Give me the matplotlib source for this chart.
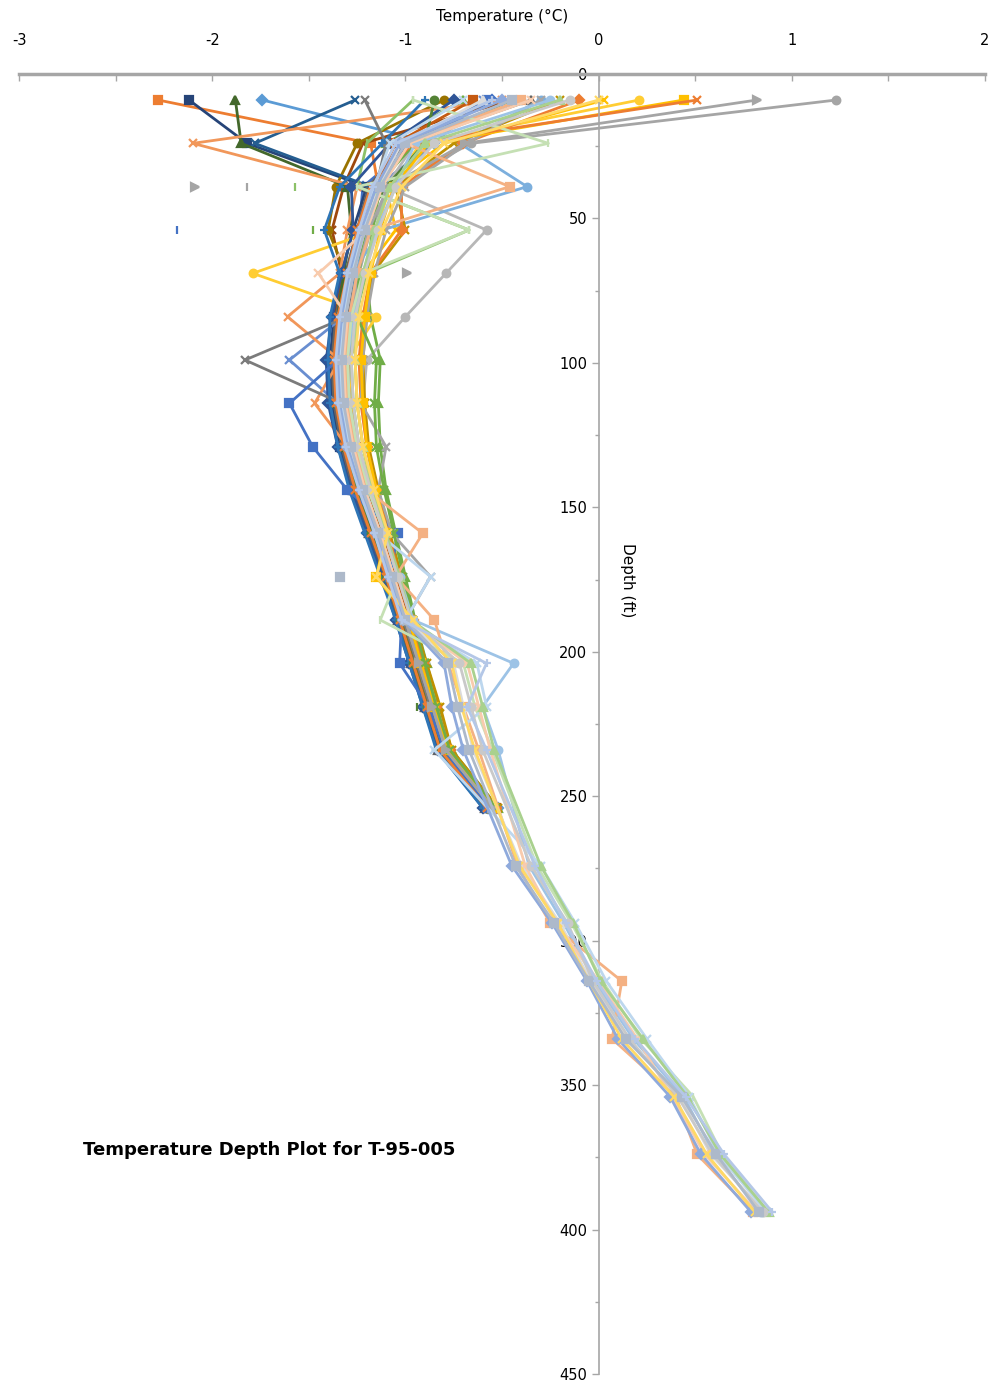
import numpy as np
import matplotlib
matplotlib.use("Agg")
import matplotlib.pyplot as plt
from matplotlib.ticker import MultipleLocator

plt.rcParams['axes.unicode_minus'] = False

nan = np.nan

# depths (ft) for the earlier logs (stop at 254 ft)
depths_upper = [9, 24, 39, 54, 69, 84, 99, 114, 129, 144, 159, 174, 189, 204, 219, 234, 254]
# depths for the later logs (skip 254, go to 394 ft)
depths_full = [9, 24, 39, 54, 69, 84, 99, 114, 129, 144, 159, 174, 189, 204, 219, 234,
               274, 294, 314, 334, 354, 374, 394]

# temperatures (deg C), one row per log, earlier logs
upper_temps = [
    [-0.55, -0.95, -1.22, -1.24, -1.30, -1.34, -1.36, -1.35, -1.31, -1.25, -1.17, -1.09, -1.02, -0.95, -0.88, -0.80, -0.57],
    [-2.28, -1.18, -1.14, -1.21, -1.27, -1.31, -1.32, -1.31, -1.28, -1.22, -1.15, -1.08, -1.00, -0.93, -0.86, -0.79, -0.55],
    [1.23, -0.66, -1.08, -1.18, -1.24, -1.28, -1.29, -1.28, -1.31, -1.20, -1.13, -1.06, -0.99, -0.92, -0.85, -0.78, -0.54],
    [0.03, -0.80, -1.10, -1.05, -1.22, -1.25, -1.26, -1.25, -1.22, -1.17, -1.10, -1.03, -0.97, -0.90, -0.83, -0.77, -0.53],
    [-1.74, -0.85, -1.12, -1.20, -1.26, -1.30, -1.31, -1.30, -1.26, -1.20, -1.13, -1.05, -0.98, -0.91, -0.84, -0.77, -0.52],
    [-0.70, -1.10, -1.13, -1.17, -1.20, -1.18, -1.13, -1.14, -1.13, -1.10, -1.05, -1.00, -0.95, -0.89, -0.83, -0.76, -0.52],
    [-2.12, -1.82, -1.20, -1.27, -1.33, -1.37, -1.39, -1.38, -1.34, -1.27, -1.19, -1.11, -1.04, -0.97, -0.90, -0.82, -0.58],
    [-0.45, -1.22, -1.32, -1.38, -1.33, -1.36, -1.37, -1.36, -1.32, -1.26, -1.18, -1.10, -1.03, -0.96, -0.89, -0.81, -0.56],
    [-0.35, -1.00, -1.19, -1.25, -1.31, -1.36, -1.38, -1.37, -1.33, -1.27, -1.19, -1.11, -1.04, -0.97, -0.90, -0.83, -0.59],
    [-0.80, -1.25, -1.36, -1.40, -1.31, -1.33, -1.34, -1.33, -1.30, -1.24, -1.16, -1.09, -1.02, -0.95, -0.88, -0.81, -0.58],
    [-1.26, -1.78, -1.18, -1.25, -1.29, -1.32, -1.33, -1.32, -1.29, -1.23, -1.16, -1.08, -1.01, -0.94, -0.87, -0.80, -0.57],
    [-1.88, -1.85, -1.30, -1.28, -1.32, -1.35, -1.36, -1.35, -1.31, -1.25, -1.17, -1.10, -1.03, -0.96, -0.89, -0.81, -0.57],
    [-0.60, -0.85, -1.15, -1.22, -1.28, -1.32, -1.60, -1.35, -1.30, -1.22, -1.14, -1.07, -1.00, -0.93, -0.86, -0.79, -0.55],
    [-0.50, -2.10, -1.25, -1.30, -1.34, -1.61, -1.34, -1.47, -1.30, -1.23, -1.15, -1.07, -1.00, -0.93, -0.86, -0.79, -0.55],
    [-0.40, -0.95, -1.10, -0.58, -0.79, -1.00, -1.20, -1.22, -1.20, -1.16, -1.10, -1.03, -0.97, -0.90, -0.84, -0.77, -0.53],
    [0.21, -0.92, -1.08, -1.15, -1.79, -1.15, -1.30, -1.28, -1.25, -1.19, -1.12, -1.05, -0.98, -0.91, -0.84, -0.77, -0.54],
    [-0.30, -0.72, -0.37, -1.12, -1.28, -1.31, -1.32, -1.31, -1.27, -1.21, -1.13, -1.06, -0.99, -0.92, -0.85, -0.78, -0.54],
    [-0.96, -1.20, -1.25, -0.67, -1.20, -1.26, -1.28, -1.27, -1.24, -1.18, -1.11, -1.04, -0.97, -0.90, -0.84, -0.77, -0.53],
    [-0.75, -1.08, -1.28, -1.27, -1.33, -1.38, -1.41, -1.40, -1.35, -1.28, -1.20, -1.12, -1.05, -0.98, -0.91, -0.83, -0.60],
    [-0.65, -1.05, -1.16, -1.23, -1.28, -1.30, -1.30, -1.29, -1.25, -1.19, -1.12, -1.05, -0.98, -0.92, -0.85, -0.78, -0.53],
    [-1.21, -1.10, -1.15, -1.22, -1.27, -1.30, -1.83, -1.33, -1.29, -1.23, -1.15, -1.08, -1.01, -0.94, -0.87, -0.80, -0.56],
    [-0.20, -0.75, -1.05, -1.00, -1.17, -1.20, -1.22, -1.21, -1.19, -1.14, -1.08, -1.02, -0.96, -0.89, -0.82, -0.76, -0.52],
    [-0.90, -1.12, -1.34, -1.42, -1.34, -1.39, -1.40, -1.39, -1.35, -1.29, -1.21, -1.13, -1.05, -0.98, -0.91, -0.84, -0.60],
    [-0.85, -0.90, -1.10, -1.24, -1.29, -1.33, -1.35, -1.34, -1.31, -1.25, -1.18, -1.10, -1.03, -0.96, -0.89, -0.82, -0.58],
    [-0.58, -0.98, -1.14, -1.22, -1.28, -1.33, -1.35, -1.60, -1.48, -1.30, -1.04, -1.08, -1.02, -1.03, -0.88, -0.80, -0.57],
    [-0.10, -0.70, -1.02, -1.02, -1.18, -1.22, -1.24, -1.23, -1.20, -1.15, -1.09, -1.03, -0.96, -0.91, -0.84, -0.77, -0.53],
    [-0.30, -0.68, -1.00, -1.10, -1.16, -1.20, -1.22, -1.23, -1.10, -1.14, -1.07, -0.87, -1.00, -0.93, -0.86, -0.79, -0.55],
    [0.44, -0.88, -1.06, -1.13, -1.18, -1.21, -1.23, -1.22, -1.20, -1.15, -1.10, -1.15, -0.98, -0.92, -0.85, -0.78, -0.54],
    [-0.45, -0.95, -1.15, -1.21, -1.24, -1.25, -1.15, -1.16, -1.15, -1.11, -1.06, -1.01, -0.96, -0.90, -0.84, -0.77, -0.53],
    [0.51, -0.96, -1.18, -1.25, -1.30, -1.35, -1.37, -1.36, -1.32, -1.26, -1.18, -1.10, -1.03, -0.96, -0.89, -0.82, -0.58],
    [0.82, -0.69, -1.09, -1.19, -1.25, -1.29, -1.30, -1.29, -1.26, -1.21, -1.14, -1.07, -1.00, -0.93, -0.86, -0.79, -0.55],
]

# later logs, full depth
full_temps = [
    [-0.25, -0.95, -1.05, -1.15, -1.22, -1.27, -1.30, -1.29, -1.25, -1.19, -1.11, -1.03, -0.96, -0.44, -0.60, -0.52, -0.36, -0.18, -0.02, 0.18, 0.44, 0.60, 0.84],
    [-0.40, -1.00, -0.46, -1.18, -1.25, -1.29, -1.31, -1.30, -1.26, -1.20, -0.91, -1.05, -0.85, -0.78, -0.70, -0.62, -0.42, -0.25, 0.12, 0.07, 0.40, 0.51, 0.80],
    [-0.60, -1.02, -1.14, -1.21, -1.27, -1.31, -1.33, -1.32, -1.28, -1.21, -1.13, -1.06, -0.99, -0.75, -0.70, -0.65, -0.40, -0.20, -0.04, 0.15, 0.42, 0.58, 0.86],
    [-0.96, -0.26, -1.25, -0.67, -1.22, -1.28, -1.30, -1.29, -1.25, -1.19, -1.11, -1.04, -1.13, -0.70, -0.64, -0.55, -0.32, -0.14, 0.02, 0.22, 0.49, 0.64, 0.88],
    [-0.70, -1.08, -1.16, -1.22, -1.28, -1.32, -1.34, -1.33, -1.29, -1.22, -1.14, -0.87, -1.00, -0.63, -0.58, -0.85, -0.30, -0.12, 0.04, 0.25, 0.47, 0.62, 0.87],
    [-0.35, -0.98, -1.12, -1.20, -1.45, -1.30, -1.32, -1.31, -1.27, -1.21, -1.13, -1.06, -0.99, -0.68, -0.62, -0.56, -0.38, -0.22, 0.00, 0.20, 0.38, 0.55, 0.82],
    [-0.50, -1.03, -1.15, -1.23, -1.29, -1.33, -1.35, -1.34, -1.30, -1.23, -1.15, -1.08, -1.01, -0.80, -0.76, -0.70, -0.45, -0.24, -0.06, 0.10, 0.37, 0.53, 0.79],
    [-0.20, -0.90, -1.08, -1.16, -1.22, -1.25, -1.26, -1.25, -1.22, -1.17, -1.10, -1.03, -0.97, -0.66, -0.60, -0.54, -0.30, -0.13, 0.01, 0.23, 0.46, 0.63, 0.88],
    [-0.15, -0.85, -1.05, -1.14, -1.21, -1.26, -1.28, -1.27, -1.24, -1.18, -1.11, -1.04, -0.97, -0.72, -0.66, -0.60, -0.35, -0.16, -0.03, 0.16, 0.41, 0.59, 0.85],
    [0.00, -0.80, -1.02, -1.12, -1.19, -1.24, -1.26, -1.25, -1.22, -1.16, -1.09, -1.15, -0.96, -0.76, -0.71, -0.64, -0.41, -0.21, -0.05, 0.12, 0.39, 0.56, 0.81],
    [-0.45, -1.00, -1.13, -1.21, -1.27, -1.31, -1.33, -1.32, -1.28, -1.22, -1.14, -1.07, -1.00, -0.78, -0.73, -0.67, -0.43, -0.23, -0.05, 0.14, 0.43, 0.61, 0.83],
    [-0.55, -1.05, -1.17, -1.24, -1.30, -1.34, -1.36, -1.35, -1.31, -1.24, -1.16, -1.09, -1.02, -0.58, -0.68, -0.58, -0.33, -0.17, -0.01, 0.19, 0.45, 0.65, 0.90],
]

# single readings with no neighbours in their log
isolated_temps = [-2.09, -1.82, -1.57, -2.18, -1.48, -0.99, -1.34, -0.94]
isolated_depths = [39, 39, 39, 54, 54, 69, 174, 219]

upper_colors = ['#4472C4', '#ED7D31', '#A5A5A5', '#FFC000', '#5B9BD5', '#70AD47',
                '#264478', '#9E480E', '#636363', '#997300', '#255E91', '#43682B',
                '#698ED0', '#F1975A', '#B7B7B7', '#FFCD33', '#7CAFDD', '#8CC168',
                '#2F5597', '#C55A11', '#7B7B7B', '#BF9000', '#2E75B6', '#548235',
                '#4472C4', '#ED7D31', '#A5A5A5', '#FFC000', '#70AD47', '#ED7D31', '#A5A5A5']
upper_markers = ['D', 's', 'o', 'x', 'D', '^', 's', 'x', '^', 'o', 'x', '^',
                 'x', 'x', 'o', 'o', 'o', '|', 'D', 's', 'x', 'x', '+', 'o',
                 's', 'D', 'x', 's', 'x', 'x', '>']
full_colors = ['#9DC3E6', '#F4B183', '#DBDBDB', '#C5E0B4', '#BDD7EE', '#F8CBAD',
               '#8FAADC', '#A9D18E', '#C9C9C9', '#FFD966', '#ADB9CA', '#B4C7E7']
full_markers = ['o', 's', '^', '|', 'x', 'x', 'D', '^', 'o', 'x', 's', '+']
isolated_colors = ['#A5A5A5', '#A5A5A5', '#8CC168', '#4472C4', '#70AD47', '#A5A5A5', '#ADB9CA', '#548235']
isolated_markers = ['>', '|', '|', '|', '|', '>', 's', '|']

fig = plt.figure(figsize=(9.99, 13.88), dpi=100)
ax = fig.add_axes([19 / 999, 1 - 1374 / 1388, 966 / 999, 1300 / 1388])

for temps, c, m in zip(upper_temps, upper_colors, upper_markers):
    ax.plot(temps, depths_upper, color=c, lw=2, marker=m, ms=5.5, mew=1.6, zorder=2)
for temps, c, m in zip(full_temps, full_colors, full_markers):
    ax.plot(temps, depths_full, color=c, lw=2, marker=m, ms=5.5, mew=1.6, zorder=3)
for t, d, c, m in zip(isolated_temps, isolated_depths, isolated_colors, isolated_markers):
    ax.plot([t], [d], color=c, marker=m, ms=5.5, mew=1.6, ls='none', zorder=3)

ax.set_xlim(-3, 2)
ax.set_ylim(450, 0)

# x axis along the top
ax.xaxis.set_ticks_position('top')
ax.xaxis.set_label_position('top')
ax.xaxis.set_major_locator(MultipleLocator(1))
ax.xaxis.set_minor_locator(MultipleLocator(0.5))
ax.tick_params(axis='x', which='both', direction='in', length=5, width=1,
               color='#A6A6A6', labelsize=10.5, pad=19)
ax.set_xlabel('Temperature (°C)', fontsize=11, labelpad=8)

# y axis through x = 0
ax.spines['left'].set_position(('data', 0))
ax.spines['left'].set_color('#A6A6A6')
ax.spines['left'].set_linewidth(1.2)
ax.spines['top'].set_color('#A6A6A6')
ax.spines['top'].set_linewidth(2.5)
ax.spines['right'].set_visible(False)
ax.spines['bottom'].set_visible(False)
ax.yaxis.set_major_locator(MultipleLocator(50))
ax.yaxis.set_minor_locator(MultipleLocator(25))
ax.tick_params(axis='y', which='major', direction='out', length=5, width=1,
               color='#A6A6A6', labelsize=10.5, pad=3)
ax.tick_params(axis='y', which='minor', direction='out', length=3, width=1, color='#A6A6A6')

fig.text(628 / 999, 1 - 580 / 1388, 'Depth (ft)', rotation=270, ha='center', va='center', fontsize=11)
fig.text(83 / 999, 1 - 1150 / 1388, 'Temperature Depth Plot for T-95-005',
         ha='left', va='center', fontsize=13, fontweight='bold')

fig.savefig('out.png', dpi=100)
